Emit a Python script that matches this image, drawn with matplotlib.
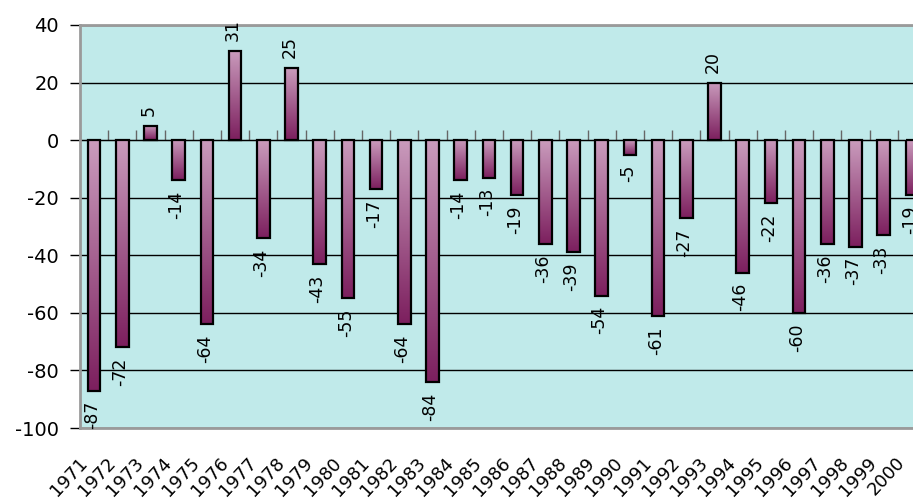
import numpy as np
import matplotlib
matplotlib.use('Agg')
import matplotlib.pyplot as plt
from matplotlib.colors import LinearSegmentedColormap
from matplotlib.transforms import ScaledTranslation

years = [str(y) for y in range(1971, 2001)]
values = [-87, -72, 5, -14, -64, 31, -34, 25, -43, -55,
          -17, -64, -84, -14, -13, -19, -36, -39, -54, -5,
          -61, -27, 20, -46, -22, -60, -36, -37, -33, -19]
yticks = [-100, -80, -60, -40, -20, 0, 20, 40]

plt.rcParams['font.family'] = ['DejaVu Sans']
plt.rcParams['axes.unicode_minus'] = False

fig = plt.figure(figsize=(9.13, 5.04), dpi=100)
# plot area runs past the right edge like in the original
ax = fig.add_axes([80 / 913, 1 - 428 / 504, 846 / 913, 403 / 504])
ax.set_facecolor('#c0eaea')

x = np.arange(len(values))
bw = 0.45
grad = LinearSegmentedColormap.from_list('mauve', ['#ca9cbd', '#7c1f5e'])
col = np.linspace(0, 1, 256).reshape(-1, 1)

bars = ax.bar(x, values, width=bw, color='none', edgecolor='none', zorder=2)
for b, v in zip(bars, values):
    x0 = b.get_x()
    im = ax.imshow(col, cmap=grad, aspect='auto', origin='upper',
                   extent=(x0, x0 + bw, min(0, v), max(0, v)), zorder=2)
    im.set_clip_path(b)
ax.bar(x, values, width=bw, color='none', edgecolor='black', linewidth=1.6, zorder=3)

for xi, v in zip(x, values):
    off = 7 if v > 0 else -7.5
    ax.annotate(str(v), (xi, v), xytext=(-1.5, off), textcoords='offset points',
                rotation=90, ha='center', va='bottom' if v > 0 else 'top',
                fontsize=12.5, zorder=4, annotation_clip=False)

ax.set_xlim(-0.5, len(values) - 0.5)
ax.set_ylim(-100, 40)
ax.set_yticks(yticks)
ax.tick_params(axis='y', direction='out', length=7, width=1, color='black',
               labelsize=14, pad=8)
ax.yaxis.grid(True, color='black', linewidth=1)
ax.set_axisbelow(True)

ax.set_xticks(x)
ax.set_xticklabels(years, rotation=47, ha='right', va='center',
                   rotation_mode='anchor', fontsize=13)
ax.tick_params(axis='x', length=0, pad=23)
shift = ScaledTranslation(-10 / 100, 0, fig.dpi_scale_trans)
for lab in ax.get_xticklabels():
    lab.set_transform(lab.get_transform() + shift)

for s in ['top', 'left', 'bottom']:
    ax.spines[s].set_color('#9a9a9a')
    ax.spines[s].set_linewidth(2)
ax.spines['right'].set_visible(False)

# category ticks hanging from the zero line
zero = ax.secondary_xaxis(100 / 140)
zero.set_xticks(np.arange(-0.5, len(values), 1.0))
zero.set_xticklabels([])
zero.tick_params(direction='out', length=7, width=1, color='#666666')
zero.spines['bottom'].set_color('black')
zero.spines['bottom'].set_linewidth(1)

fig.savefig('out.png', dpi=100)
